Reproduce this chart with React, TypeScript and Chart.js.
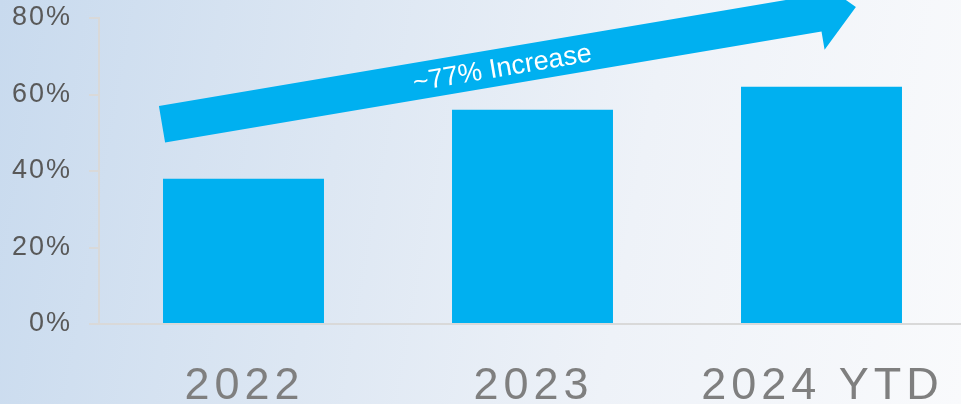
import React, { useEffect, useRef } from "react";
import { Chart, registerables } from "chart.js";

Chart.register(...registerables);

const categories = ["2022", "2023", "2024 YTD"];
const values = [38, 56, 62];
const yTickValues = [0, 20, 40, 60, 80];
const arrowLabel = "~77% Increase";
// arrow anchored in data space: x = category index (fractional), y = percent
const arrowFrom = { x: -0.282, y: 52.2 };
const arrowTo = { x: 2.119, y: 82.9 };

const BAR_COLOR = "#00B0F0";
const AXIS_COLOR = "#d9d9d9";
const FONT = "'Liberation Sans', Arial, sans-serif";

const spacingPlugin = {
  id: "spacing",
  beforeDraw(chart: any) {
    chart.ctx.letterSpacing = "2px";
  },
};

const xLabelPlugin = {
  id: "xlabels",
  afterDraw(chart: any) {
    const { ctx } = chart;
    const xs = chart.scales.x;
    ctx.save();
    ctx.letterSpacing = "5px";
    ctx.font = `45px ${FONT}`;
    ctx.fillStyle = "#7f7f7f";
    ctx.textAlign = "center";
    ctx.textBaseline = "alphabetic";
    xs.ticks.forEach((t: any, i: number) => {
      const label = String(xs.getLabelForValue(t.value));
      ctx.fillText(label, xs.getPixelForTick(i) + 1, xs.top + 75);
    });
    ctx.restore();
  },
};

const arrowPlugin = {
  id: "arrow",
  afterDraw(chart: any) {
    const { ctx, scales } = chart;
    const x0 = scales.x.getPixelForValue(arrowFrom.x);
    const y0 = scales.y.getPixelForValue(arrowFrom.y);
    const x1 = scales.x.getPixelForValue(arrowTo.x);
    const y1 = scales.y.getPixelForValue(arrowTo.y);
    const dx = x1 - x0;
    const dy = y1 - y0;
    const L = Math.sqrt(dx * dx + dy * dy);
    const ang = Math.atan2(dy, dx);
    const h = 18.5;
    const W = 37;
    const H = 38;
    ctx.save();
    ctx.letterSpacing = "0px";
    ctx.translate(x0, y0);
    ctx.rotate(ang);
    ctx.beginPath();
    ctx.moveTo(0, -h);
    ctx.lineTo(L - H, -h);
    ctx.lineTo(L - H, -W);
    ctx.lineTo(L, 0);
    ctx.lineTo(L - H, W);
    ctx.lineTo(L - H, h);
    ctx.lineTo(0, h);
    ctx.closePath();
    ctx.fillStyle = BAR_COLOR;
    ctx.fill();
    ctx.fillStyle = "#ffffff";
    ctx.font = `27px ${FONT}`;
    ctx.textAlign = "center";
    ctx.textBaseline = "middle";
    ctx.fillText(arrowLabel, L * 0.49, 2);
    ctx.restore();
  },
};

export default function App() {
  const ref = useRef<HTMLCanvasElement | null>(null);

  useEffect(() => {
    if (!ref.current) return;
    const chart = new Chart(ref.current, {
      type: "bar",
      data: {
        labels: categories,
        datasets: [
          {
            data: values,
            backgroundColor: BAR_COLOR,
            borderWidth: 0,
            barPercentage: 0.557,
            categoryPercentage: 1.0,
          },
        ],
      },
      options: {
        responsive: false,
        animation: false,
        devicePixelRatio: 1,
        layout: { padding: { top: 18, left: 0, right: 14, bottom: 0 } },
        plugins: {
          legend: { display: false },
          tooltip: { enabled: false },
          title: { display: false },
        },
        scales: {
          x: {
            offset: true,
            grid: { display: false, drawTicks: false },
            border: { display: true, color: AXIS_COLOR, width: 2 },
            ticks: {
              display: false,
              autoSkip: false,
            },
            afterFit: (s: any) => {
              s.height = 80;
              s.paddingLeft = 0;
              s.paddingRight = 0;
            },
          },
          y: {
            min: 0,
            max: 80,
            afterBuildTicks: (s: any) => {
              s.ticks = yTickValues.map((v) => ({ value: v }));
            },
            grid: {
              display: true,
              drawOnChartArea: false,
              drawTicks: true,
              tickLength: 10,
              color: AXIS_COLOR,
              lineWidth: 2,
            },
            border: { display: true, color: AXIS_COLOR, width: 2 },
            ticks: {
              color: "#595959",
              font: { size: 27, family: FONT },
              padding: 17,
              callback: (v: any) => `${v}%`,
            },
            afterFit: (s: any) => {
              s.width = 99;
              s.paddingTop = 0;
              s.paddingBottom = 0;
            },
          },
        },
      },
      plugins: [spacingPlugin, arrowPlugin, xLabelPlugin],
    });
    return () => chart.destroy();
  }, []);

  return (
    <div
      style={{
        position: "fixed",
        left: 0,
        top: 0,
        width: "100vw",
        height: "100vh",
        overflow: "hidden",
        background: "linear-gradient(100deg, #c8daee 0%, #dde7f3 35%, #eef2f8 65%, #f9fafc 100%)",
      }}
    >
      <canvas
        ref={ref}
        width={980}
        height={404}
        style={{ position: "absolute", left: 0, top: 0, width: 980, height: 404 }}
      />
    </div>
  );
}
